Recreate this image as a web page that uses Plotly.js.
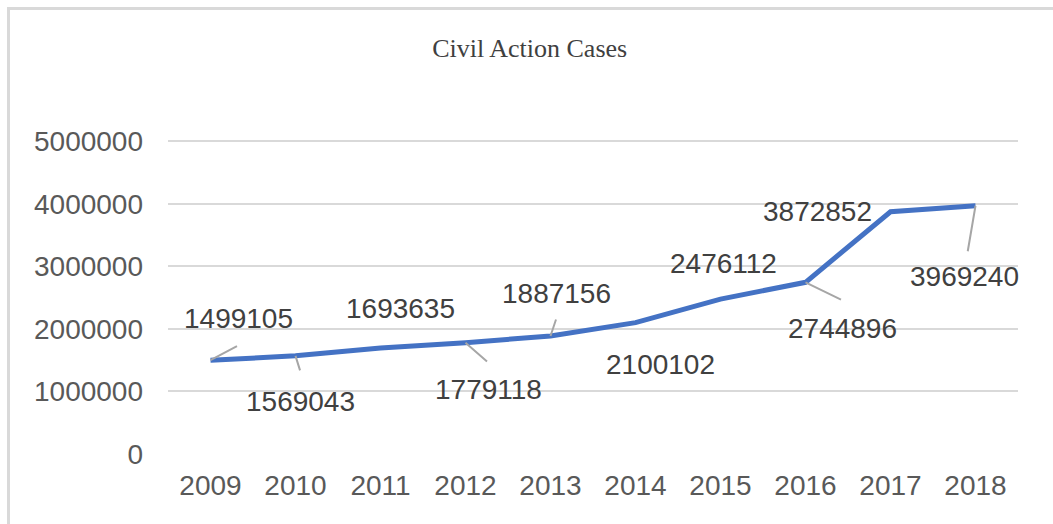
<!DOCTYPE html>
<html>
<head>
<meta charset="utf-8">
<script src="https://cdn.plot.ly/plotly-3.0.1.min.js"></script>
<style>
  html, body { margin:0; padding:0; background:#fff; }
  #frame { position:absolute; left:7px; top:7px; width:1100px; height:600px;
           border-left:3px solid #d9d9d9; border-top:3px solid #d9d9d9; }
  #chart { position:absolute; left:0; top:0; width:1053px; height:524px; }
  #err { position:absolute; left:20px; top:60px; color:red; font-size:12px; }
</style>
</head>
<body>
<div id="frame"></div>
<div id="chart"></div>
<div id="err"></div>
<script>
window.onerror = function(m){ document.getElementById('err').textContent += ' ' + m; };
// ---- data ----
const years = ["2009","2010","2011","2012","2013","2014","2015","2016","2017","2018"];
const cases = [1499105, 1569043, 1693635, 1779118, 1887156, 2100102, 2476112, 2744896, 3872852, 3969240];
const yTicks = [0, 1000000, 2000000, 3000000, 4000000, 5000000];
const yTickText = ["0", "1000000", "2000000", "3000000", "4000000", "5000000"];

// ---- label placement (pixel offsets, style only) ----
const labelShift = [[28,42],[5,-46],[20,40],[23,-47],[6,42],[25,-42],[3,36],[37,-46],[-73,0],[-11,-71]];
// leader lines: [index, ax, ay] in pixels from point
const leaders = [[0,28,-15],[1,5,16],[3,23,20],[4,6,-18],[7,37,18],[9,-8,47]];

const annotations = [];
years.forEach(function(yr, i) {
  annotations.push({
    x: i, y: cases[i], xref: "x", yref: "y",
    text: String(cases[i]), showarrow: false,
    xshift: labelShift[i][0], yshift: labelShift[i][1],
    font: {family: "Liberation Sans, Arial, sans-serif", size: 28, color: "#404040"}
  });
});
leaders.forEach(function(l) {
  annotations.push({
    x: l[0], y: cases[l[0]], xref: "x", yref: "y",
    text: "", 
    showarrow: true, arrowhead: 0, arrowwidth: 2, arrowcolor: "#a6a6a6",
    ax: l[1], ay: l[2], axref: "pixel", ayref: "pixel"
  });
});

const trace = {
  x: years, y: cases, type: "scatter", mode: "lines",
  line: {color: "#4472C4", width: 5, shape: "linear"},
  hoverinfo: "skip"
};

const layout = {
  width: 1053, height: 524,
  margin: {l: 167.5, r: 34.5, t: 139.75, b: 70},
  paper_bgcolor: "rgba(0,0,0,0)", plot_bgcolor: "rgba(0,0,0,0)",
  showlegend: false,
  title: {
    text: "Civil Action Cases",
    font: {family: "Liberation Serif, Times New Roman, serif", size: 26, color: "#404040"},
    x: 0.503, xanchor: "center", y: 1 - 48/524, yanchor: "middle", xref: "container", yref: "container"
  },
  xaxis: {
    type: "category", range: [-0.5, 9.5],
    showgrid: false, zeroline: false, showline: false, ticks: "",
    tickfont: {family: "Liberation Sans, Arial, sans-serif", size: 28, color: "#595959"},
    ticklabelstandoff: 12,
    fixedrange: true
  },
  yaxis: {
    range: [0, 5020000],
    tickvals: yTicks, ticktext: yTickText,
    showgrid: true, gridcolor: "#d9d9d9", gridwidth: 2,
    zeroline: false, showline: false, ticks: "",
    tickfont: {family: "Liberation Sans, Arial, sans-serif", size: 28, color: "#595959"},
    ticklabelstandoff: 24,
    fixedrange: true
  },
  annotations: annotations
};

Plotly.newPlot("chart", [trace], layout, {displayModeBar: false})
  .catch(function(e){ document.getElementById('err').textContent += ' P:' + e; });
</script>
</body>
</html>
